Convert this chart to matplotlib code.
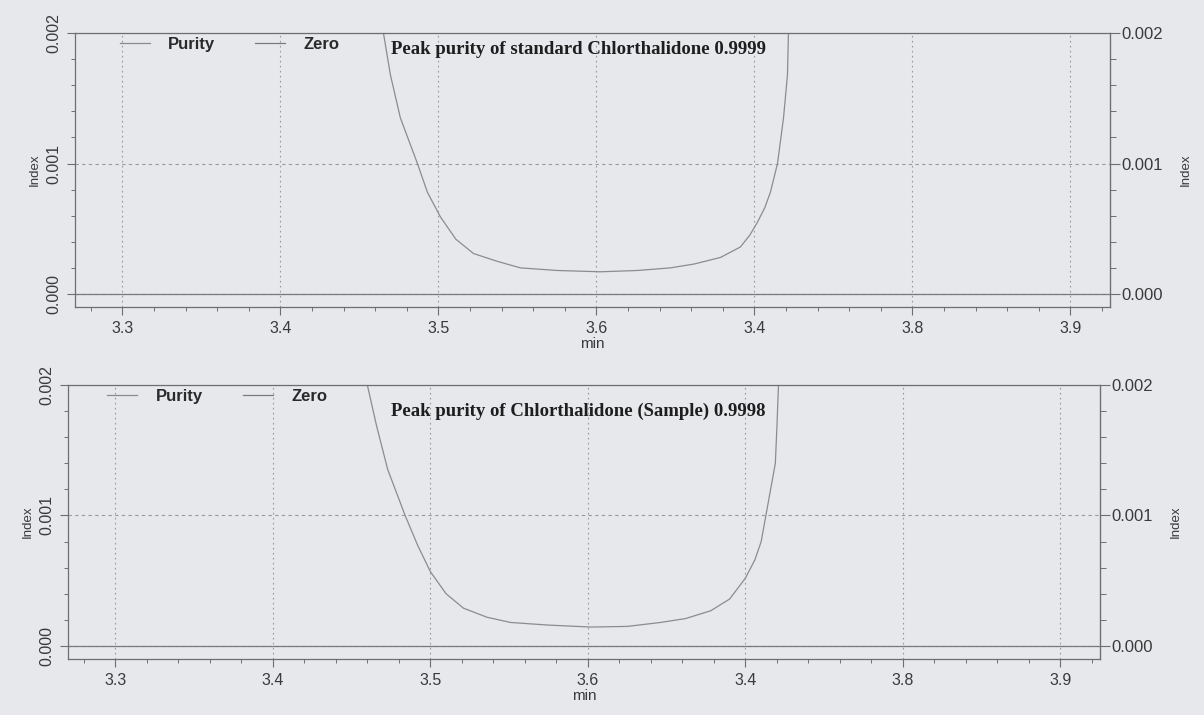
import matplotlib
matplotlib.use("Agg")
import matplotlib.pyplot as plt
from matplotlib.ticker import MultipleLocator


# Purity index against retention time (min).
STD_TIME = [3.4652, 3.4696, 3.4759, 3.4867, 3.4930, 3.5013, 3.5110, 3.5222,
            3.5373, 3.5519, 3.5753, 3.6025, 3.6259, 3.6468, 3.6620, 3.6785,
            3.6911, 3.6970, 3.7019, 3.7065, 3.7101, 3.7146, 3.7184, 3.7209,
            3.7215]
STD_PURITY = [0.00200, 0.00168, 0.00135, 0.00100, 0.00078, 0.00059, 0.00042,
              0.00031, 0.00025, 0.00020, 0.00018, 0.00017, 0.00018, 0.00020,
              0.00023, 0.00028, 0.00036, 0.00045, 0.00055, 0.00066, 0.00078,
              0.00100, 0.00135, 0.00168, 0.00200]

SAMPLE_TIME = [3.460, 3.466, 3.473, 3.484, 3.492, 3.500, 3.510, 3.521, 3.536,
               3.551, 3.575, 3.602, 3.625, 3.646, 3.662, 3.678, 3.690, 3.700,
               3.706, 3.710, 3.713, 3.716, 3.719, 3.720, 3.721]
SAMPLE_PURITY = [0.00200, 0.00168, 0.00135, 0.00100, 0.00077, 0.00057,
                 0.00040, 0.00029, 0.00022, 0.00018, 0.00016, 0.000145,
                 0.00015, 0.00018, 0.00021, 0.00027, 0.00036, 0.00052,
                 0.00066, 0.00080, 0.00100, 0.00120, 0.00140, 0.00168,
                 0.00200]

ZERO_LEVEL = 0.0

X_TICKS = [3.3, 3.4, 3.5, 3.6, 3.7, 3.8, 3.9]
X_TICK_LABELS = ["3.3", "3.4", "3.5", "3.6", "3.4", "3.8", "3.9"]
Y_TICKS = [0.000, 0.001, 0.002]
Y_TICK_LABELS = ["0.000", "0.001", "0.002"]

TITLES = [
    "Peak purity of standard Chlorthalidone 0.9999",
    "Peak purity of Chlorthalidone (Sample) 0.9998",
]

PAPER = "#e6e8eb"
LINE = "#8c8c8c"
AXIS = "#6e6e6e"
TEXT = "#3a3a3a"
SANS = "Liberation Sans"
SERIF = "Liberation Serif"


# Draws one purity panel (left index axis, right index axis, legend, title).
def plot_panel(fig, rect, time, purity, title, title_xy, legend_x):
    ax = fig.add_axes(rect)
    ax.set_facecolor(PAPER)

    ax.plot(time, purity, color=LINE, linewidth=0.9, label="Purity")
    ax.axhline(ZERO_LEVEL, color="#7a7a7a", linewidth=0.9, label="Zero")

    ax.set_xlim(3.27, 3.925)
    ax.set_ylim(-0.0001, 0.002)

    # Ticks and grid.
    ax.set_xticks(X_TICKS, X_TICK_LABELS)
    ax.set_yticks(Y_TICKS, Y_TICK_LABELS, rotation=90, va="center")
    ax.xaxis.set_minor_locator(MultipleLocator(0.02))
    ax.yaxis.set_minor_locator(MultipleLocator(0.0002))

    ax.tick_params(axis="both", which="major", length=6, width=0.8,
                   color=AXIS, labelcolor=TEXT, labelsize=11.5)
    ax.tick_params(axis="both", which="minor", length=3, width=0.7,
                   color=AXIS)
    ax.tick_params(axis="x", pad=4)
    ax.tick_params(axis="y", pad=4)

    ax.grid(axis="x", which="major", linestyle=(0, (1.5, 3)),
            color="#9a9a9a", linewidth=0.8)
    ax.grid(axis="y", which="major", linestyle=(0, (3, 3)),
            color="#9a9a9a", linewidth=0.8)

    for spine in ax.spines.values():
        spine.set_color(AXIS)
        spine.set_linewidth(0.9)

    for label in ax.get_xticklabels() + ax.get_yticklabels():
        label.set_family(SANS)

    ax.set_ylabel("Index", fontsize=9.5, family=SANS, color=TEXT,
                  labelpad=4)
    ax.set_xlabel("min", fontsize=11, family=SANS, color=TEXT,
                  labelpad=1)

    # Right hand index axis.
    right = ax.secondary_yaxis("right")
    right.set_yticks(Y_TICKS, Y_TICK_LABELS)
    right.yaxis.set_minor_locator(MultipleLocator(0.0002))
    right.tick_params(which="major", length=7, width=0.8, color=AXIS,
                      labelcolor=TEXT, labelsize=12, pad=1)
    right.tick_params(which="minor", length=4, width=0.7, color=AXIS)
    right.spines["right"].set_color(AXIS)
    for label in right.get_yticklabels():
        label.set_family(SANS)
    right.set_ylabel("Index", fontsize=9.5, family=SANS, color=TEXT,
                     labelpad=12)

    # Legend along the top edge.
    ax.legend(
        loc="upper left",
        bbox_to_anchor=(legend_x, 0.985),
        ncol=2,
        frameon=False,
        borderpad=0,
        borderaxespad=0,
        handlelength=1.8,
        handletextpad=1.1,
        columnspacing=2.4,
        prop={"family": SANS, "weight": "bold", "size": 12},
        labelcolor="#2a2a2a",
    )

    ax.text(
        title_xy[0], title_xy[1], title,
        transform=ax.transAxes,
        ha="left", va="center",
        family=SERIF, fontweight="bold", fontsize=13.5,
        color="#1e1e1e",
    )

    return ax


fig = plt.figure(figsize=(12.04, 7.15), dpi=100, facecolor=PAPER)

plot_panel(fig, [0.0623, 0.5706, 0.8596, 0.3832],
           STD_TIME, STD_PURITY, TITLES[0], (0.305, 0.94), 0.043)
plot_panel(fig, [0.0565, 0.0783, 0.8570, 0.3832],
           SAMPLE_TIME, SAMPLE_PURITY, TITLES[1], (0.313, 0.905), 0.038)

fig.savefig("out.png", dpi=100, facecolor=PAPER)
